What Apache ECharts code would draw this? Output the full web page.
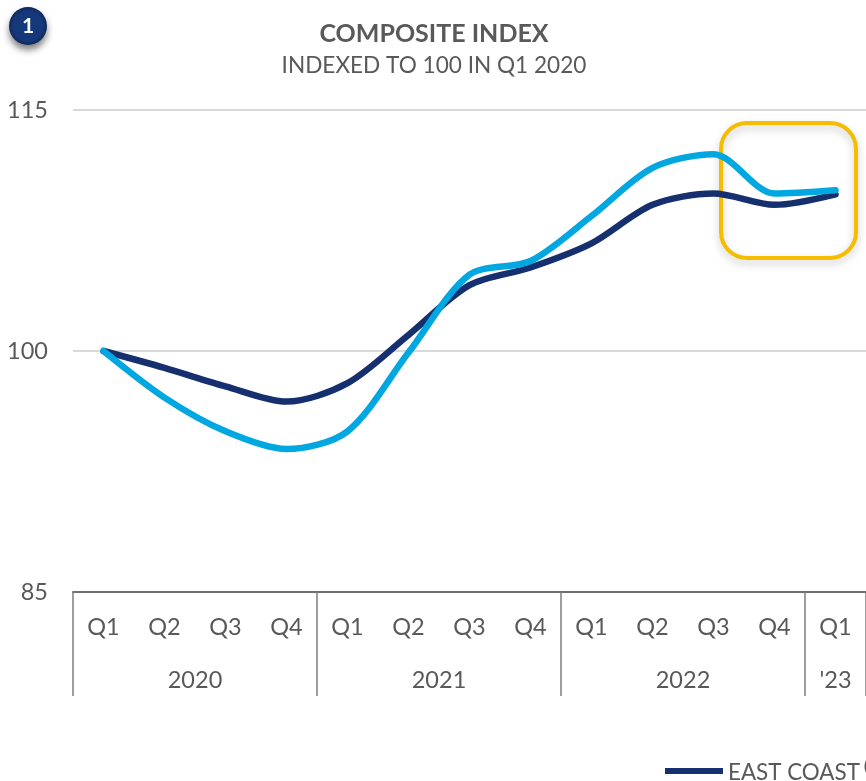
<!DOCTYPE html>
<html><head><meta charset="utf-8">
<style>html,body{margin:0;padding:0;background:#fff;overflow:hidden}#c{width:866px;height:781px}</style>
<script src="https://cdn.jsdelivr.net/npm/echarts@6/dist/echarts.min.js"></script>
</head><body><div id="c"></div>
<script>
const quarters = ['Q1','Q2','Q3','Q4','Q1','Q2','Q3','Q4','Q1','Q2','Q3','Q4','Q1'];
const eastCoast = [100,98.95,97.8,96.85,98.0,101.0,104.1,105.2,106.7,109.1,109.8,109.1,109.75];
const otherSeries = [100,97.1,95.0,93.9,95.0,99.9,104.75,105.6,108.4,111.4,112.25,109.8,110.0];
const yearLabels = ['2020','2021','2022',"'23"];
const yearCenters = [2,6,10,12.5];
const yearEdges = [0,4,8,12,13];
const yTicks = [85,100,115];
const FONT = 'Lato';
const GREY = '#595959';
const chart = echarts.init(document.getElementById('c'), null, {renderer:'canvas'});
chart.setOption({
  animation:false,
  backgroundColor:'#fff',
  title:{
    left:429, textAlign:'center', top:16,
    text:'COMPOSITE INDEX', subtext:'INDEXED TO 100 IN Q1 2020', itemGap:8,
    textStyle:{fontFamily:FONT,fontSize:25,fontWeight:'bold',color:GREY},
    subtextStyle:{fontFamily:FONT,fontSize:22.6,color:GREY}
  },
  legend:{
    data:['EAST COAST'], left:665, top:757, icon:'rect', itemWidth:58, itemHeight:6, itemGap:6, padding:0,
    formatter:n=>n+'{s|(1)}',
    textStyle:{fontFamily:FONT,fontSize:22.4,color:GREY,padding:[4,0,0,0],rich:{s:{fontFamily:FONT,fontSize:18,color:GREY,verticalAlign:'top',padding:[0,0,14,4]}}}
  },
  grid:{left:73,top:110,width:793,height:482},
  xAxis:[
    {type:'category',data:quarters,position:'bottom',
      axisLine:{lineStyle:{color:'#6f6f6f',width:2}},axisTick:{show:false},
      axisLabel:{interval:0,margin:23,fontFamily:FONT,fontSize:23.5,color:GREY,lineHeight:24}},
    {type:'value',min:0,max:13,position:'bottom',splitLine:{show:false},
      axisLine:{show:false},
      axisTick:{show:true,length:104,customValues:yearEdges,lineStyle:{color:'#7f7f7f',width:1.5}},
      axisLabel:{margin:76,customValues:yearCenters,fontFamily:FONT,fontSize:23.5,color:GREY,hideOverlap:false,showMinLabel:true,showMaxLabel:true,
        formatter:v=>yearLabels[yearCenters.indexOf(v)]}}
  ],
  yAxis:{type:'value',min:85,max:115,interval:15,
    axisLine:{show:false},axisTick:{show:false},
    splitLine:{lineStyle:{color:'#d9d9d9',width:2}},
    axisLabel:{margin:25,padding:[3,0,0,0],fontFamily:FONT,fontSize:23.5,color:GREY,customValues:yTicks}},
  series:[
    {name:'EAST COAST',type:'line',data:eastCoast,xAxisIndex:0,smooth:0.3,showSymbol:false,symbol:'none',z:3,
      itemStyle:{color:'#16306f'},lineStyle:{color:'#16306f',width:6.5,cap:'round'}},
    {name:'OTHER',type:'line',data:otherSeries,xAxisIndex:0,smooth:0.3,showSymbol:false,symbol:'none',z:4,
      itemStyle:{color:'#00a7e1'},lineStyle:{color:'#00a7e1',width:6.5,cap:'round'}}
  ],
  graphic:[
    {type:'rect',z:1,silent:true,shape:{x:721,y:123,width:135,height:135,r:26},
      style:{fill:'rgba(255,255,255,0)',stroke:'#f5bc00',lineWidth:4,shadowBlur:8,shadowOffsetY:4,shadowColor:'rgba(0,0,0,0.22)'}},
    {type:'circle',z:10,silent:true,shape:{cx:28,cy:26,r:19},
      style:{shadowBlur:7,shadowOffsetY:5,shadowColor:'rgba(0,0,0,0.5)',
        fill:new echarts.graphic.RadialGradient(0.5,0.5,0.55,[{offset:0,color:'#15397c'},{offset:0.7,color:'#16387a'},{offset:1,color:'#0c2250'}])}},
    {type:'text',z:11,silent:true,style:{x:28,y:26,text:'1',align:'center',verticalAlign:'middle',fontFamily:FONT,fontWeight:'bold',fontSize:21,fill:'#fff'}}
  ]
});
</script></body></html>
